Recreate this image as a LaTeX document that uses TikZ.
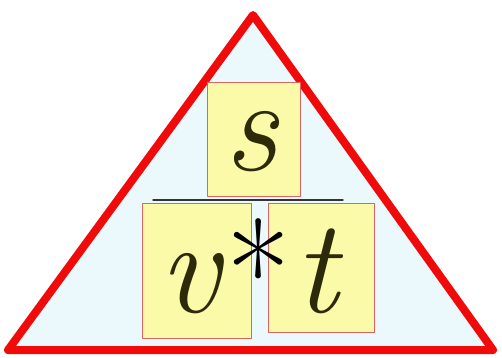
\documentclass[tikz,border=0pt]{standalone}
\usepackage{tikz}
\usetikzlibrary{positioning}

\definecolor{trired}{RGB}{240,10,10}
\definecolor{trifill}{RGB}{236,249,252}
\definecolor{cardfill}{RGB}{250,250,168}
\definecolor{cardline}{RGB}{222,100,100}
\definecolor{letterink}{RGB}{45,42,10}

\tikzset{
  card/.style={draw=cardline,fill=cardfill,line width=.9pt,inner sep=0pt,anchor=south west},
  letter/.style={font=\fontsize{134}{134}\selectfont\itshape,text=letterink,inner sep=0pt,anchor=base}
}

\begin{document}
\begin{tikzpicture}[x=1pt,y=1pt,line cap=round,line join=round]
\path[use as bounding box] (0,0) rectangle (502,357);
\draw[draw=trired,fill=trifill,line width=8pt] (253,342) -- (8,7) -- (493,7) -- cycle;
\node[card,minimum width=93pt,minimum height=114pt] (sbox) at (207,160) {};
\node[card,minimum width=109pt,minimum height=135pt] (vbox) at (142,18) {};
\node[card,minimum width=106pt,minimum height=129pt] (tbox) at (268,24) {};
\coordinate (barl) at (153,157);
\coordinate (barr) at (343,157);
\draw[black!80,line width=1.4pt] (barl) -- (barr);
\node[letter] (s) at (251,187) {s};
\node[letter] (v) at (190,45) {v};
\node[letter] (t) at (316,45) {t};
\node[font=\fontsize{140}{140}\selectfont,inner sep=0pt] (star) at (259,86) {*};
\end{tikzpicture}
\end{document}
